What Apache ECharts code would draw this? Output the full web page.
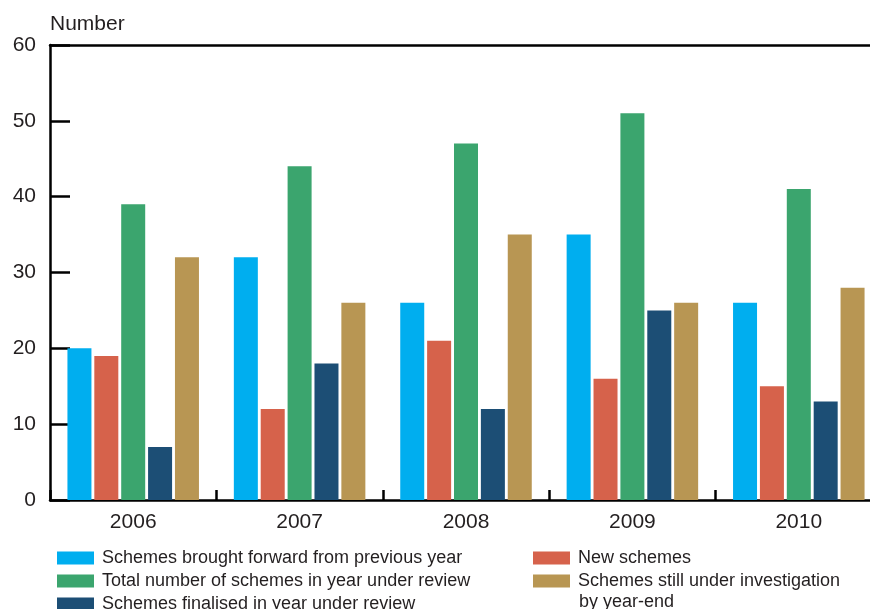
<!DOCTYPE html>
<html>
<head>
  <meta charset="utf-8" />
  <title>Schemes chart</title>
  <style>
    html, body { margin: 0; padding: 0; background: #fff; }
    #chart { width: 870px; height: 609px; }
  </style>
</head>
<body>
  <div id="chart"></div>
  <script src="https://cdn.jsdelivr.net/npm/echarts@6/dist/echarts.min.js"></script>
  <script>
    var years = ['2006', '2007', '2008', '2009', '2010'];
    var broughtForward = [20, 32, 26, 35, 26];
    var newSchemes = [19, 12, 21, 16, 15];
    var totalSchemes = [39, 44, 47, 51, 41];
    var finalised = [7, 18, 12, 25, 13];
    var stillOpen = [32, 26, 35, 26, 28];
    var yTicks = [0, 10, 20, 30, 40, 50, 60];

    var seriesNames = [
      'Schemes brought forward from previous year',
      'New schemes',
      'Total number of schemes in year under review',
      'Schemes finalised in year under review',
      'Schemes still under investigation by year-end'
    ];
    var seriesData = [broughtForward, newSchemes, totalSchemes, finalised, stillOpen];
    var colors = ['#00aeef', '#d6624b', '#3ba56e', '#1c4e75', '#b89653'];

    var _font = 'Liberation Sans, Arial, Helvetica, sans-serif';
    var _txt = '#231f20';

    var series = [];
    for (var i = 0; i < seriesNames.length; i++) {
      series.push({
        name: seriesNames[i],
        type: 'bar',
        barWidth: 24,
        barGap: '12%',
        itemStyle: { color: colors[i] },
        data: seriesData[i]
      });
    }

    // legend placement: one legend per item, laid out in two columns
    var legendPos = [[52, 544], [528, 544], [52, 567], [52, 590], [528, 567]];
    var legends = [];
    for (var j = 0; j < seriesNames.length; j++) {
      legends.push({
        left: legendPos[j][0], top: legendPos[j][1],
        itemWidth: 37, itemHeight: 13, itemGap: 0,
        icon: 'rect',
        textStyle: { fontSize: 18, color: _txt, fontFamily: _font, padding: [0, 0, 0, 3] },
        formatter: function (name) {
          return name === seriesNames[4] ? 'Schemes still under investigation' : name;
        },
        data: [seriesNames[j]]
      });
    }

    var chart = echarts.init(document.getElementById('chart'));
    chart.setOption({
      animation: false,
      grid: { left: 50, top: 45, width: 832, bottom: 109, outerBoundsMode: 'none' },
      legend: legends,
      graphic: [{
        type: 'text',
        left: 579, top: 593,
        style: { text: 'by year-end', fontSize: 18, fill: _txt, fontFamily: _font }
      }],
      xAxis: [
        {
          type: 'category',
          data: years,
          axisLine: { lineStyle: { color: '#000', width: 2.5 } },
          axisTick: {
            show: true, inside: true, length: 10, interval: 0, alignWithLabel: false,
            lineStyle: { color: '#000', width: 2.5 }
          },
          axisLabel: { fontSize: 21, color: _txt, fontFamily: _font, margin: 12 }
        },
        {
          type: 'category',
          data: years,
          position: 'top',
          axisLine: { lineStyle: { color: '#000', width: 2.5 } },
          axisTick: { show: false },
          axisLabel: { show: false }
        }
      ],
      yAxis: {
        type: 'value',
        min: yTicks[0],
        max: yTicks[yTicks.length - 1],
        interval: 10,
        name: 'Number',
        nameLocation: 'end',
        nameGap: 10,
        nameTextStyle: { fontSize: 21, color: _txt, fontFamily: _font, align: 'left' },
        axisLine: { show: true, lineStyle: { color: '#000', width: 2.5 } },
        axisTick: { show: true, inside: true, length: 20, lineStyle: { color: '#000', width: 2.5 } },
        axisLabel: { fontSize: 21, color: _txt, fontFamily: _font, margin: 14 },
        splitLine: { show: false }
      },
      series: series
    });
  </script>
</body>
</html>
